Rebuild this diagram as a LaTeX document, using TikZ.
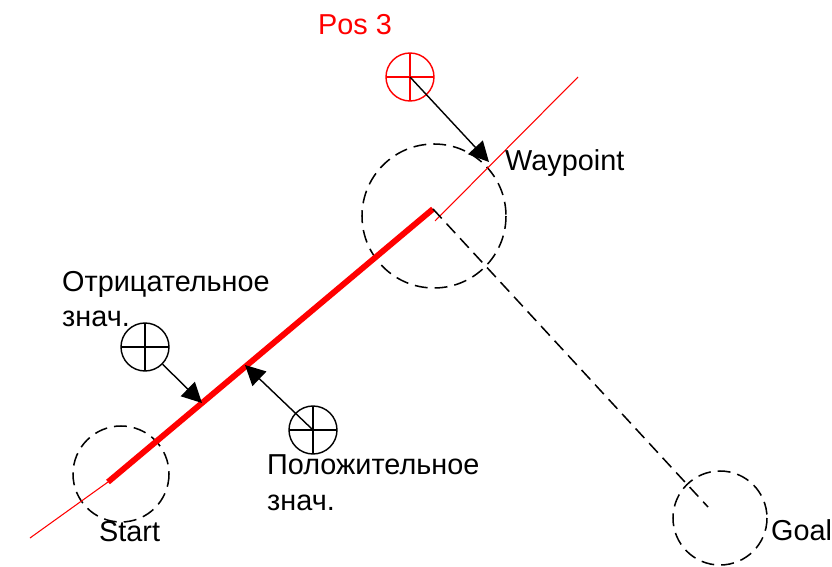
\documentclass[tikz,border=0pt]{standalone}
\usepackage{fontspec}
\setmainfont{Liberation Sans}
\usetikzlibrary{arrows.meta}

\begin{document}
\begin{tikzpicture}[x=0.03cm,y=-0.03cm]
	\tikzstyle{every node}=[font=\fontsize{24.6}{30}\selectfont, inner sep=0pt];
	\tikzstyle{zone}=[draw, dash pattern=on 11pt off 6pt, line width=1.3pt];
	\tikzstyle{cross}=[circle, draw, line width=1.2pt, minimum size=1.44cm,
		path picture={\draw[line width=1.2pt] (path picture bounding box.north) -- (path picture bounding box.south)
			(path picture bounding box.west) -- (path picture bounding box.east);}];
	\tikzstyle{ptr}=[-{Triangle[length=0.6cm,width=0.6cm]}, line width=1.2pt];
	\useasboundingbox (0,0) rectangle (832,567);

	%Zones
	\coordinate (start) at (121,474);
	\coordinate (waypoint) at (434,216);
	\coordinate (goal) at (720,518);
	\draw[zone] (start) circle (48);
	\draw[zone] (waypoint) circle (72);
	\draw[zone] (goal) circle (47);

	%Path
	\coordinate (lo) at (30,538);
	\coordinate (s) at (108,482);
	\coordinate (w) at (433,209);
	\coordinate (w2) at (435,221);
	\coordinate (hi) at (578,77);
	\coordinate (g) at (708,507);
	\draw[red, line width=0.9pt] (lo) -- (s);
	\draw[red, line width=0.9pt] (w2) -- (hi);
	\draw[red, line width=5pt] (s) -- (w);
	\draw[zone] (w) -- (g);

	%Positions
	\node[cross, red] (pos3) at (410,77) {};
	\node[cross] (neg) at (145,347) {};
	\node[cross] (pos) at (313,430) {};

	%Arrows
	\coordinate (tp3) at (489,162);
	\coordinate (tneg) at (202,403);
	\coordinate (tpos) at (245,365);
	\draw[ptr] (pos3.center) -- (tp3);
	\draw[ptr] (neg) -- (tneg);
	\draw[ptr] (pos.center) -- (tpos);

	%Labels
	\node[anchor=base west, text=red] (lpos3) at (318,35) {Pos 3};
	\node[anchor=base west] (lwaypoint) at (505,171) {Waypoint};
	\node[anchor=base west, align=left] (lneg) at (62,327) {Отрицательное\\знач.};
	\node[anchor=base west, align=left] (lpos) at (267,510) {Положительное\\знач.};
	\node[anchor=base west] (lstart) at (99,541) {Start};
	\node[anchor=base west] (lgoal) at (771,540) {Goal};
\end{tikzpicture}
\end{document}
